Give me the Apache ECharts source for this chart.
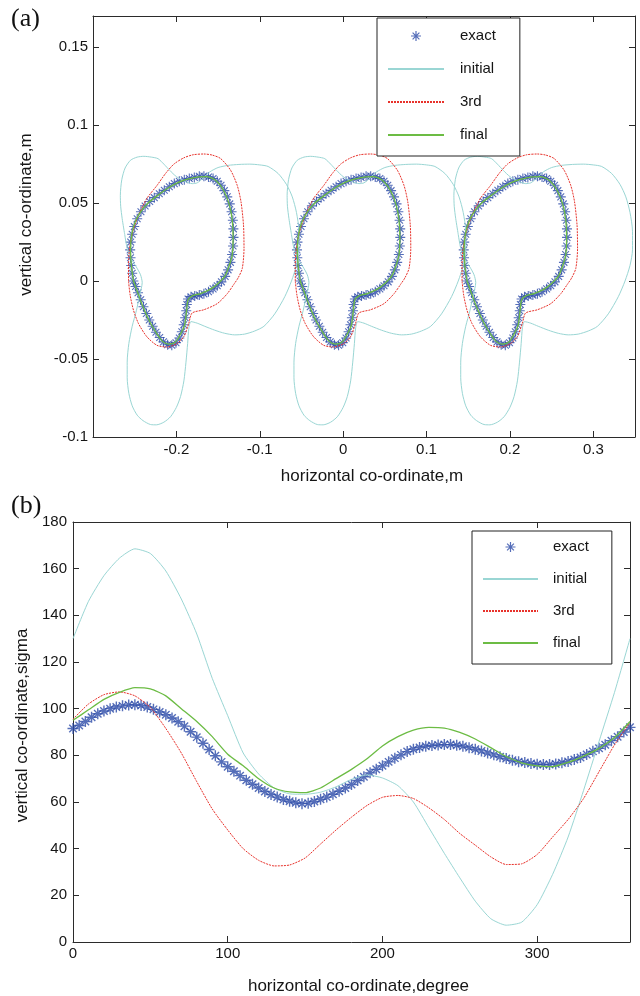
<!DOCTYPE html>
<html>
<head>
<meta charset="utf-8">
<script src="https://cdn.jsdelivr.net/npm/echarts@6/dist/echarts.min.js"></script>
<style>
html,body{margin:0;padding:0;background:#ffffff;}
#chart{width:640px;height:996px;}
</style>
</head>
<body>
<div id="chart"></div>
<script>
// ================= DATA =================
// Panel (a): one period of each contour (x relative to its cell centre, metres), repeated at the cell centres
const shapeCentres = [-0.2, 0, 0.2];

const exactShapeX = [-0.0516,-0.0530,-0.0542,-0.0550,-0.0554,-0.0548,-0.0530,-0.0505,-0.0470,-0.0425,-0.0375,-0.0320,-0.0265,-0.0205,-0.0145,-0.0085,-0.0025,0.0035,0.0095,0.0155,0.0215,0.0275,0.0330,0.0385,0.0440,0.0490,0.0535,0.0575,0.0610,0.0640,0.0662,0.0677,0.0684,0.0685,0.0680,0.0668,0.0648,0.0620,0.0585,0.0540,0.0490,0.0440,0.0385,0.0330,0.0275,0.0220,0.0175,0.0140,0.0125,0.0118,0.0105,0.0088,0.0065,0.0035,-0.0005,-0.0055,-0.0105,-0.0155,-0.0200,-0.0245,-0.0285,-0.0325,-0.0360,-0.0395,-0.0428,-0.0460,-0.0490];
const exactShapeY = [0.0000,0.0050,0.0100,0.0150,0.0200,0.0250,0.0300,0.0350,0.0400,0.0445,0.0482,0.0510,0.0535,0.0560,0.0582,0.0605,0.0625,0.0640,0.0650,0.0658,0.0665,0.0672,0.0673,0.0668,0.0658,0.0640,0.0615,0.0580,0.0540,0.0495,0.0445,0.0390,0.0335,0.0280,0.0225,0.0170,0.0120,0.0072,0.0030,-0.0005,-0.0030,-0.0050,-0.0068,-0.0082,-0.0090,-0.0095,-0.0100,-0.0115,-0.0150,-0.0190,-0.0235,-0.0280,-0.0325,-0.0365,-0.0395,-0.0412,-0.0408,-0.0390,-0.0362,-0.0328,-0.0290,-0.0250,-0.0208,-0.0165,-0.0120,-0.0075,-0.0035];

const initialShapeX = [-0.0620,-0.0650,-0.0668,-0.0672,-0.0655,-0.0615,-0.0550,-0.0470,-0.0390,-0.0300,-0.0220,-0.0150,-0.0080,0.0000,0.0100,0.0190,0.0250,0.0320,0.0400,0.0500,0.0620,0.0750,0.0880,0.1000,0.1100,0.1220,0.1320,0.1390,0.1440,0.1470,0.1470,0.1440,0.1380,0.1300,0.1180,0.1050,0.0940,0.0820,0.0700,0.0580,0.0460,0.0340,0.0250,0.0175,0.0150,0.0135,0.0115,0.0090,0.0050,0.0000,-0.0070,-0.0150,-0.0240,-0.0310,-0.0400,-0.0470,-0.0530,-0.0570,-0.0590,-0.0590,-0.0570,-0.0530,-0.0480,-0.0440,-0.0410,-0.0430,-0.0480,-0.0540,-0.0590,-0.0620];
const initialShapeY = [0.0300,0.0400,0.0480,0.0550,0.0650,0.0725,0.0775,0.0795,0.0800,0.0795,0.0785,0.0750,0.0710,0.0670,0.0640,0.0625,0.0630,0.0660,0.0700,0.0728,0.0742,0.0748,0.0750,0.0745,0.0735,0.0690,0.0620,0.0540,0.0440,0.0320,0.0200,0.0100,0.0000,-0.0100,-0.0210,-0.0290,-0.0320,-0.0340,-0.0345,-0.0335,-0.0315,-0.0290,-0.0270,-0.0260,-0.0300,-0.0400,-0.0520,-0.0640,-0.0740,-0.0810,-0.0870,-0.0905,-0.0922,-0.0920,-0.0895,-0.0860,-0.0800,-0.0720,-0.0620,-0.0520,-0.0400,-0.0290,-0.0190,-0.0090,-0.0010,0.0040,0.0090,0.0140,0.0210,0.0300];

const thirdShapeX = [-0.0574,-0.0574,-0.0562,-0.0523,-0.0454,-0.0354,-0.0233,-0.0130,-0.0030,0.0088,0.0200,0.0329,0.0430,0.0530,0.0650,0.0730,0.0775,0.0805,0.0811,0.0790,0.0740,0.0690,0.0610,0.0489,0.0329,0.0188,0.0148,0.0088,0.0007,-0.0113,-0.0233,-0.0354,-0.0454,-0.0514,-0.0554,-0.0574];
const thirdShapeY = [0.0000,0.0102,0.0209,0.0316,0.0422,0.0530,0.0613,0.0690,0.0750,0.0790,0.0810,0.0815,0.0808,0.0786,0.0711,0.0613,0.0508,0.0358,0.0209,0.0081,0.0020,-0.0020,-0.0081,-0.0145,-0.0184,-0.0205,-0.0273,-0.0357,-0.0401,-0.0423,-0.0412,-0.0357,-0.0273,-0.0188,-0.0092,0.0000];

const finalShapeX = [-0.0515,-0.0540,-0.0550,-0.0535,-0.0490,-0.0420,-0.0330,-0.0210,-0.0090,0.0030,0.0150,0.0270,0.0370,0.0480,0.0570,0.0635,0.0670,0.0680,0.0670,0.0640,0.0585,0.0500,0.0400,0.0290,0.0190,0.0140,0.0122,0.0100,0.0060,-0.0010,-0.0090,-0.0170,-0.0250,-0.0330,-0.0400,-0.0460,-0.0515];
const finalShapeY = [0.0000,0.0100,0.0200,0.0300,0.0385,0.0450,0.0505,0.0555,0.0600,0.0635,0.0655,0.0668,0.0670,0.0642,0.0578,0.0490,0.0390,0.0280,0.0170,0.0110,0.0035,-0.0015,-0.0055,-0.0080,-0.0095,-0.0120,-0.0190,-0.0280,-0.0330,-0.0390,-0.0405,-0.0385,-0.0325,-0.0250,-0.0165,-0.0080,0.0000];

// Panel (b): sigma against angle
const degreeExact = [0,4,8,12,16,20,24,28,32,36,40,44,48,52,56,60,64,68,72,76,80,84,88,92,96,100,104,108,112,116,120,124,128,132,136,140,144,148,152,156,160,164,168,172,176,180,184,188,192,196,200,204,208,212,216,220,224,228,232,236,240,244,248,252,256,260,264,268,272,276,280,284,288,292,296,300,304,308,312,316,320,324,328,332,336,340,344,348,352,356,360];
const sigmaExact = [91.5,92.8,94.5,96.3,97.8,99.0,100.0,100.7,101.2,101.6,101.7,101.4,100.7,99.7,98.6,97.4,96.0,94.4,92.5,90.1,87.8,85.2,82.5,79.8,77.2,75.1,73.2,71.3,69.3,67.6,66.0,64.5,63.2,62.1,61.1,60.3,59.7,59.3,59.5,60.2,61.2,62.1,63.3,64.6,66.0,67.5,69.2,70.8,72.5,74.0,75.5,77.2,78.8,80.2,81.6,82.6,83.4,83.9,84.2,84.4,84.6,84.6,84.3,83.9,83.3,82.6,81.9,81.0,80.2,79.4,78.6,77.9,77.3,76.9,76.5,76.2,76.1,76.1,76.3,76.8,77.4,78.2,79.1,80.4,81.7,83.0,84.5,86.3,88.0,90.0,92.0];

const degreeCurves = [0,10,20,30,40,50,60,70,80,90,100,110,120,130,140,150,160,170,180,190,200,210,220,230,240,250,260,270,280,290,300,310,320,330,340,350,360];
const sigmaInitial = [130,146,157,164.5,168.5,166.5,159,147,132,113,97,81,72,66,63.5,63.3,64.2,66.5,69.7,71.6,70.3,67,60,49,38,27.5,17.5,10,7.2,8.5,16,29,45,65,86,107,130];
const sigmaThird = [95.5,102,106,107.2,105.5,100.5,91.5,81,68.7,57,48,40,35,32.6,33,36,42,48,53.5,58.5,62,62.8,61.5,57.5,52.5,46.5,41.5,36.5,33.2,33.5,37.5,45,52.5,61.5,73,84.5,94];
const sigmaFinal = [95,99.5,104,107,109,108.5,105.5,100,94.5,88,80.5,75.5,70,66,64.3,64,66,70,74,78.5,84,88,90.8,92,91.7,89.8,87,83.3,79.5,76.8,75.5,75.2,77,79.7,83,87.6,94.5];

// Tick labels
const xTicksA = [-0.2,-0.1,0,0.1,0.2,0.3];
const yTicksA = [-0.1,-0.05,0,0.05,0.1,0.15];
const xTicksB = [0,100,200,300];
const yTicksB = [0,20,40,60,80,100,120,140,160,180];

const seriesNames = ['exact','initial','3rd','final'];

// ================= STYLE =================
const FONT = '"Liberation Sans", Arial, Helvetica, sans-serif';
const SERIF = '"Liberation Serif", "Times New Roman", serif';
const BLUE = '#2a4aa8';
const CYAN = '#9ad6d4';
const RED = '#e8322b';
const GREEN = '#6cbc44';
const AXIS = '#2b2b2b';
const TXT = '#151515';
const ASTER = 'path://M5 0L5 10M0 5L10 5M1.6 1.6L8.4 8.4M8.4 1.6L1.6 8.4';

function shapeCopy(xs, ys, c) {
  const n = Math.min(xs.length, ys.length);
  const out = [];
  for (let i = 0; i < n; i++) out.push([Math.round((xs[i] + c) * 1e6) / 1e6, ys[i]]);
  return out;
}
function closed(arr) { return arr.concat([arr[0]]); }
function pairs(xs, ys) {
  const n = Math.min(xs.length, ys.length);
  const out = [];
  for (let i = 0; i < n; i++) out.push([xs[i], ys[i]]);
  return out;
}
function tickFormatter(list) {
  return function (v) {
    for (const t of list) if (Math.abs(t - v) < 1e-7) return String(t);
    return '';
  };
}

function mainAxis(gridIndex, pos, min, max, interval, ticks, labelMargin, extra) {
  return Object.assign({
    type: 'value', gridIndex: gridIndex, position: pos,
    min: min, max: max, interval: interval,
    splitLine: { show: false },
    axisLine: { show: true, onZero: false, lineStyle: { color: AXIS, width: 1 } },
    axisTick: { show: true, inside: true, length: 6, lineStyle: { color: AXIS, width: 1 } },
    axisLabel: { show: true, margin: labelMargin, fontSize: 15, fontFamily: FONT, color: TXT, formatter: tickFormatter(ticks) }
  }, extra || {});
}
function frameAxis(gridIndex, pos, min, max, interval) {
  return {
    type: 'value', gridIndex: gridIndex, position: pos,
    min: min, max: max, interval: interval,
    splitLine: { show: false },
    axisLine: { show: true, onZero: false, lineStyle: { color: AXIS, width: 1 } },
    axisTick: { show: true, inside: true, length: 6, lineStyle: { color: AXIS, width: 1 } },
    axisLabel: { show: false }
  };
}

const nameStyle = { fontSize: 17, fontFamily: FONT, color: TXT };

const series = [];
// ---- panel (a) ----
shapeCentres.forEach(function (c) {
  series.push({
    name: 'exact', type: 'scatter', xAxisIndex: 0, yAxisIndex: 0,
    data: shapeCopy(exactShapeX, exactShapeY, c),
    symbol: ASTER, symbolSize: 10,
    itemStyle: { color: 'rgba(0,0,0,0)', borderColor: BLUE, borderWidth: 1.1 },
    emphasis: { disabled: true }
  });
});
shapeCentres.forEach(function (c) {
  series.push({
    name: 'initial', type: 'line', xAxisIndex: 0, yAxisIndex: 0,
    data: closed(shapeCopy(initialShapeX, initialShapeY, c)),
    symbol: 'none', smooth: 0.25,
    lineStyle: { color: CYAN, width: 1 }, itemStyle: { color: CYAN },
    emphasis: { disabled: true }
  });
});
shapeCentres.forEach(function (c) {
  series.push({
    name: '3rd', type: 'line', xAxisIndex: 0, yAxisIndex: 0,
    data: closed(shapeCopy(thirdShapeX, thirdShapeY, c)),
    symbol: 'none', smooth: 0.25,
    lineStyle: { color: RED, width: 1, type: [2, 1] }, itemStyle: { color: RED },
    emphasis: { disabled: true }
  });
});
shapeCentres.forEach(function (c) {
  series.push({
    name: 'final', type: 'line', xAxisIndex: 0, yAxisIndex: 0,
    data: closed(shapeCopy(finalShapeX, finalShapeY, c)),
    symbol: 'none', smooth: 0.25,
    lineStyle: { color: GREEN, width: 1.3 }, itemStyle: { color: GREEN },
    emphasis: { disabled: true }
  });
});
// ---- panel (b) ----
series.push({
  name: 'exact', type: 'scatter', xAxisIndex: 2, yAxisIndex: 2,
  data: pairs(degreeExact, sigmaExact),
  symbol: ASTER, symbolSize: 11,
  itemStyle: { color: 'rgba(0,0,0,0)', borderColor: BLUE, borderWidth: 1.4 },
  emphasis: { disabled: true }
});
series.push({
  name: 'initial', type: 'line', xAxisIndex: 2, yAxisIndex: 2,
  data: pairs(degreeCurves, sigmaInitial), symbol: 'none', smooth: 0.2,
  lineStyle: { color: CYAN, width: 1 }, itemStyle: { color: CYAN }, emphasis: { disabled: true }
});
series.push({
  name: '3rd', type: 'line', xAxisIndex: 2, yAxisIndex: 2,
  data: pairs(degreeCurves, sigmaThird), symbol: 'none', smooth: 0.2,
  lineStyle: { color: RED, width: 1, type: [2, 1] }, itemStyle: { color: RED }, emphasis: { disabled: true }
});
series.push({
  name: 'final', type: 'line', xAxisIndex: 2, yAxisIndex: 2,
  data: pairs(degreeCurves, sigmaFinal), symbol: 'none', smooth: 0.2,
  lineStyle: { color: GREEN, width: 1.3 }, itemStyle: { color: GREEN }, emphasis: { disabled: true }
});

function legendData() {
  return seriesNames.map(function (n) {
    if (n === 'exact') {
      return { name: n, icon: ASTER, itemStyle: { color: 'rgba(0,0,0,0)', borderColor: BLUE, borderWidth: 1.2 } };
    }
    return { name: n, itemStyle: { opacity: 0 } };
  });
}
function legendCfg(left, top, padding, gap, itemWidth, textPadLeft) {
  return {
    orient: 'vertical', left: left, top: top, padding: padding,
    itemGap: gap, itemWidth: itemWidth, itemHeight: 10,
    borderColor: '#222', borderWidth: 1, backgroundColor: '#ffffff',
    selectedMode: false,
    textStyle: { fontSize: 15, fontFamily: FONT, color: TXT, lineHeight: 18, padding: [0, 0, 0, textPadLeft] },
    data: legendData()
  };
}

const option = {
  animation: false,
  backgroundColor: '#ffffff',
  grid: [
    { left: 93, top: 16, width: 542, height: 421 },
    { left: 73, top: 522, width: 557, height: 421 }
  ],
  xAxis: [
    mainAxis(0, 'bottom', -0.3, 0.35, 0.1, xTicksA, 5, {
      name: 'horizontal co-ordinate,m', nameLocation: 'middle', nameGap: 31,
      nameTextStyle: Object.assign({}, nameStyle, { padding: [0, 0, 0, 16] })
    }),
    frameAxis(0, 'top', -0.3, 0.35, 0.1),
    mainAxis(1, 'bottom', 0, 360, 100, xTicksB, 4, {
      name: 'horizontal co-ordinate,degree', nameLocation: 'middle', nameGap: 36,
      nameTextStyle: Object.assign({}, nameStyle, { padding: [0, 0, 0, 14] })
    }),
    frameAxis(1, 'top', 0, 360, 100)
  ],
  yAxis: [
    mainAxis(0, 'left', -0.1, 0.17, 0.05, yTicksA, 5, {
      name: 'vertical co-ordinate,m', nameLocation: 'middle', nameGap: 58,
      nameTextStyle: Object.assign({}, nameStyle, { padding: [0, 0, 0, 24] })
    }),
    frameAxis(0, 'right', -0.1, 0.17, 0.05),
    mainAxis(1, 'left', 0, 180, 20, yTicksB, 6, {
      name: 'vertical co-ordinate,sigma', nameLocation: 'middle', nameGap: 38,
      nameTextStyle: Object.assign({}, nameStyle, { padding: [0, 0, 0, 13] })
    }),
    frameAxis(1, 'right', 0, 180, 20)
  ],
  legend: [
    legendCfg(377, 18, [9, 24, 12, 10], 15, 56, 11),
    legendCfg(472, 531, [7, 23, 12, 10], 14, 55, 10)
  ],
  graphic: [
    { type: 'text', left: 11, top: 6, style: { text: '(a)', font: '26px ' + SERIF, fill: '#111' } },
    { type: 'text', left: 11, top: 493, style: { text: '(b)', font: '26px ' + SERIF, fill: '#111' } }
  ],
  series: series
};

const chart = echarts.init(document.getElementById('chart'), null, { renderer: 'canvas' });
chart.setOption(option);
</script>
</body>
</html>
